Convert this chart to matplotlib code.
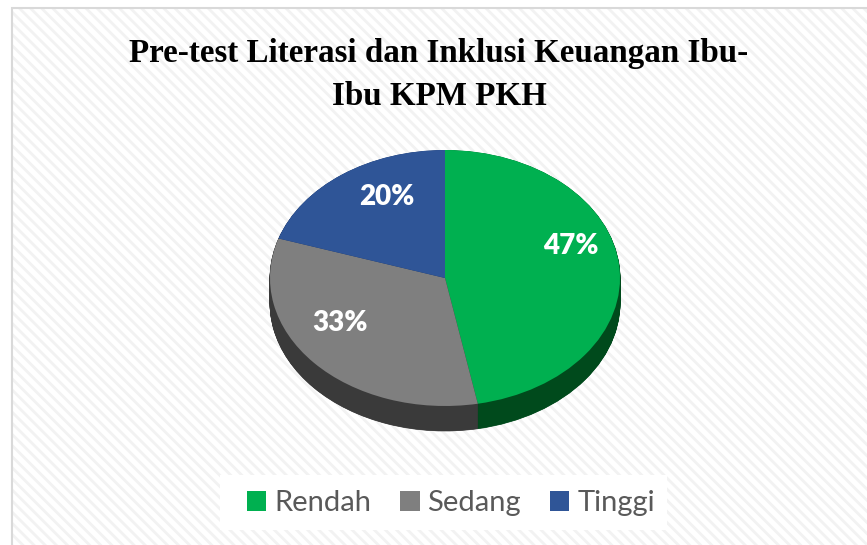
import matplotlib
matplotlib.use('Agg')
import matplotlib.pyplot as plt
from matplotlib.patches import Rectangle, Patch
import numpy as np

# ---- data ----
categories = ['Rendah', 'Sedang', 'Tinggi']
values = [47, 33, 20]
pct_labels = ['47%', '33%', '20%']
title_lines = ['Pre-test Literasi dan Inklusi Keuangan Ibu-', 'Ibu KPM PKH']

# ---- style ----
top_colors = ['#00B050', '#7F7F7F', '#2F5597']
side_colors = ['#004A1C', '#3A3A3A', '#1B3260']
label_pos = [(0.72, 0.25), (-0.60, -0.35), (-0.33, 0.63)]  # layout (axes data units)

W, H = 867, 545
fig = plt.figure(figsize=(W / 100, H / 100), dpi=100)
fig.patch.set_facecolor('white')

def fx(px):
    return px / W

def fy(py):
    return 1 - py / H

plt.rcParams['hatch.linewidth'] = 2.0
bg = Rectangle((fx(12), 0), 1 - fx(12), fy(8), transform=fig.transFigure,
               facecolor='white', edgecolor='#f2f2f2', hatch='\\\\\\', linewidth=0, zorder=-10)
fig.patches.append(bg)
border = Rectangle((fx(11.5), -0.02), 1.1, fy(7.5) + 0.02, transform=fig.transFigure,
                   fill=False, edgecolor='#d9d9d9', linewidth=1.5, zorder=-5)
fig.patches.append(border)
legbox = Rectangle((fx(220), fy(530)), (667 - 220) / W, 55 / H, transform=fig.transFigure,
                   facecolor='white', edgecolor='none', zorder=-4)
fig.patches.append(legbox)

# ---- pie geometry (pixels) ----
cx, cy = 445, 278
sx, sy = 175, 128
depth_px = 25
d = depth_px / sy
L, R = cx - 1.05 * sx, cx + 1.05 * sx
T, B = cy - 1.05 * sy, cy + sy + depth_px + 0.05 * sy
ax = fig.add_axes([fx(L), fy(B), (R - L) / W, (B - T) / H])
ax.patch.set_alpha(0)
ax.set_zorder(2)

for k in np.linspace(d, 0, 50)[:-1]:
    ax.pie(values, colors=side_colors, startangle=90, counterclock=False,
           center=(0, -k), wedgeprops=dict(linewidth=0.5))
ax.pie(values, colors=top_colors, startangle=90, counterclock=False,
       wedgeprops=dict(linewidth=0))
for w in ax.patches:
    w.set_edgecolor(w.get_facecolor())
ax.set_aspect('auto')
ax.set_xlim(-1.05, 1.05)
ax.set_ylim(-(1 + d + 0.05), 1.05)
ax.axis('off')

for (x, y), t in zip(label_pos, pct_labels):
    ax.text(x, y, t, ha='center', va='center', color='white', fontsize=20,
            fontweight='heavy', family='Lato')

# ---- title ----
t1 = fig.text(fx(439), fy(62), title_lines[0], ha='center', va='baseline',
              family='Liberation Serif', fontweight='bold', fontsize=20)
fig.canvas.draw()
wpx = t1.get_window_extent().width
fs = 20 * 618 / wpx
t1.set_fontsize(fs)
fig.text(fx(439), fy(105), title_lines[1], ha='center', va='baseline',
         family='Liberation Serif', fontweight='bold', fontsize=fs)

# ---- legend ----
handles = [Patch(facecolor=c, edgecolor='none') for c in top_colors]
leg = fig.legend(handles, categories, loc='center', bbox_to_anchor=(fx(451), fy(503)),
                 ncol=3, frameon=False, prop={'family': 'Lato', 'size': 21},
                 labelcolor='#595959',
                 handlelength=0.66, handleheight=0.66, handletextpad=0.27,
                 columnspacing=1.0, borderpad=0.3, borderaxespad=0)

fig.savefig('out.png', dpi=100)
